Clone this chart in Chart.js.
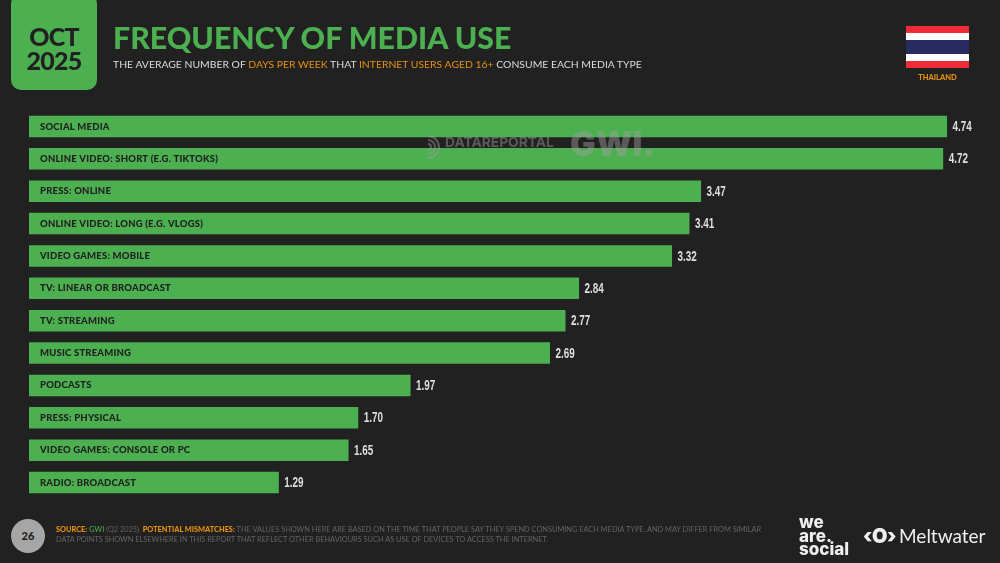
<!DOCTYPE html>
<html>
<head>
<meta charset="utf-8">
<script src="https://cdn.jsdelivr.net/npm/chart.js@4/dist/chart.umd.min.js"></script>
<style>
html, body { margin: 0; padding: 0; background: #212121; }
#wrap { position: relative; width: 1000px; height: 563px; overflow: hidden; background: #212121; font-family: Lato, sans-serif; }
#wrap div { position: absolute; white-space: nowrap; }
canvas { position: absolute; left: 0; top: 0; }
.org { color: #e8900c; }
</style>
</head>
<body>
<div id="wrap">
    <canvas id="media-chart" width="1000" height="563"></canvas>
    <div style="left:11px;top:-6px;width:86px;height:96px;background:#4caf50;border-radius:10px"></div>
    <div style="left:11px;top:24px;width:86px;text-align:center;font:900 25px/24px Lato;color:#212121;letter-spacing:-0.8px">OCT<br>2025</div>
    <div style="left:113px;top:19px;font:900 30.3px/37px Lato;color:#4caf50">FREQUENCY OF MEDIA USE</div>
    <div style="left:113px;top:57px;font:400 10.4px/14px Lato;color:#dcdcdc">THE AVERAGE NUMBER OF <span class="org">DAYS PER WEEK</span> THAT <span class="org">INTERNET USERS AGED 16+</span> CONSUME EACH MEDIA TYPE</div>
    <div style="left:906px;top:26px;width:63px;height:42px;background:linear-gradient(#ef2b35 0 7px,#fff 7px 14px,#2a2a63 14px 28px,#fff 28px 35px,#ef2b35 35px)"></div>
    <div style="left:869px;top:73px;width:137px;text-align:center;font:900 7.5px/10px Lato;color:#e8900c">THAILAND</div>
    <div style="left:11px;top:519px;width:34px;height:34px;border-radius:50%;background:#a6a6a6;text-align:center;font:900 11px/34px Lato;color:#212121">26</div>
    <div style="left:56px;top:525px;font:400 7.38px/10px Lato;color:#646464"><b class="org" style="font-weight:900">SOURCE:</b> <span style="color:#4caf50">GWI</span> (Q2 2025). <b class="org" style="font-weight:900">POTENTIAL MISMATCHES:</b> THE VALUES SHOWN HERE ARE BASED ON THE TIME THAT PEOPLE SAY THEY SPEND CONSUMING EACH MEDIA TYPE, AND MAY DIFFER FROM SIMILAR<br>DATA POINTS SHOWN ELSEWHERE IN THIS REPORT THAT REFLECT OTHER BEHAVIOURS SUCH AS USE OF DEVICES TO ACCESS THE INTERNET.</div>
    <div style="left:799px;top:516px;font:800 17px/13.5px Inter;color:#eee">we<br>are.<br>social</div>
    <div style="left:863px;top:525px;font:900 20px/22px Inter;color:#eee;letter-spacing:-0.5px">‹O›</div>
    <div style="left:899px;top:525px;font:400 19px/22px Lato;color:#eee">Meltwater</div>
</div>
<script>
var categories = [
    "SOCIAL MEDIA",
    "ONLINE VIDEO: SHORT (E.G. TIKTOKS)",
    "PRESS: ONLINE",
    "ONLINE VIDEO: LONG (E.G. VLOGS)",
    "VIDEO GAMES: MOBILE",
    "TV: LINEAR OR BROADCAST",
    "TV: STREAMING",
    "MUSIC STREAMING",
    "PODCASTS",
    "PRESS: PHYSICAL",
    "VIDEO GAMES: CONSOLE OR PC",
    "RADIO: BROADCAST"
];
var daysPerWeek = [4.74, 4.72, 3.47, 3.41, 3.32, 2.84, 2.77, 2.69, 1.97, 1.70, 1.65, 1.29];

// writes the category inside each bar and the value after it
var barText = {
    id: 'barText',
    afterDatasetsDraw: function(chart) {
        var ctx = chart.ctx;
        var bars = chart.getDatasetMeta(0).data;
        ctx.save();
        ctx.textBaseline = 'middle';
        bars.forEach(function(bar, i) {
            ctx.font = '900 9.5px Lato';
            ctx.fillStyle = '#212121';
            ctx.letterSpacing = '0.2px';
            ctx.fillText(categories[i], 40, bar.y);
            ctx.letterSpacing = '0px';
            // no condensed face installed, so squeeze it
            ctx.save();
            ctx.translate(bar.x + 5.5, bar.y + 0.5);
            ctx.scale(0.66, 1);
            ctx.font = '700 15px "Liberation Sans"';
            ctx.fillStyle = '#dedede';
            ctx.fillText(daysPerWeek[i].toFixed(2), 0, 0);
            ctx.restore();
        });
        // watermark sits over the bars
        ctx.fillStyle = 'rgba(160,160,160,0.45)';
        ctx.strokeStyle = 'rgba(160,160,160,0.45)';
        ctx.font = '700 13.8px Inter';
        ctx.fillText('DATAREPORTAL', 445, 143);
        ctx.font = '900 34px Inter';
        ctx.fillText('GWI.', 570, 146);
        ctx.lineWidth = 2;
        [3, 7, 11].forEach(function(r) {
            ctx.beginPath();
            ctx.arc(428, 147, r, -Math.PI / 2, Math.PI / 2);
            ctx.stroke();
        });
        ctx.restore();
    }
};

new Chart(document.getElementById("media-chart").getContext("2d"), {
    type: 'bar',
    data: {
        labels: categories,
        datasets: [{
            data: daysPerWeek,
            backgroundColor: "#4caf50",
            borderWidth: 0,
            categoryPercentage: 1,
            barPercentage: 0.664
        }]
    },
    options: {
        indexAxis: 'y',
        responsive: false,
        animation: false,
        layout: { padding: { left: 29, right: 2.6, top: 110.3, bottom: 64.3 } },
        plugins: { legend: { display: false }, tooltip: { enabled: false } },
        scales: {
            x: { display: false, min: 0, max: 5 },
            y: { display: false }
        }
    },
    plugins: [barText]
});
</script>
</body>
</html>
